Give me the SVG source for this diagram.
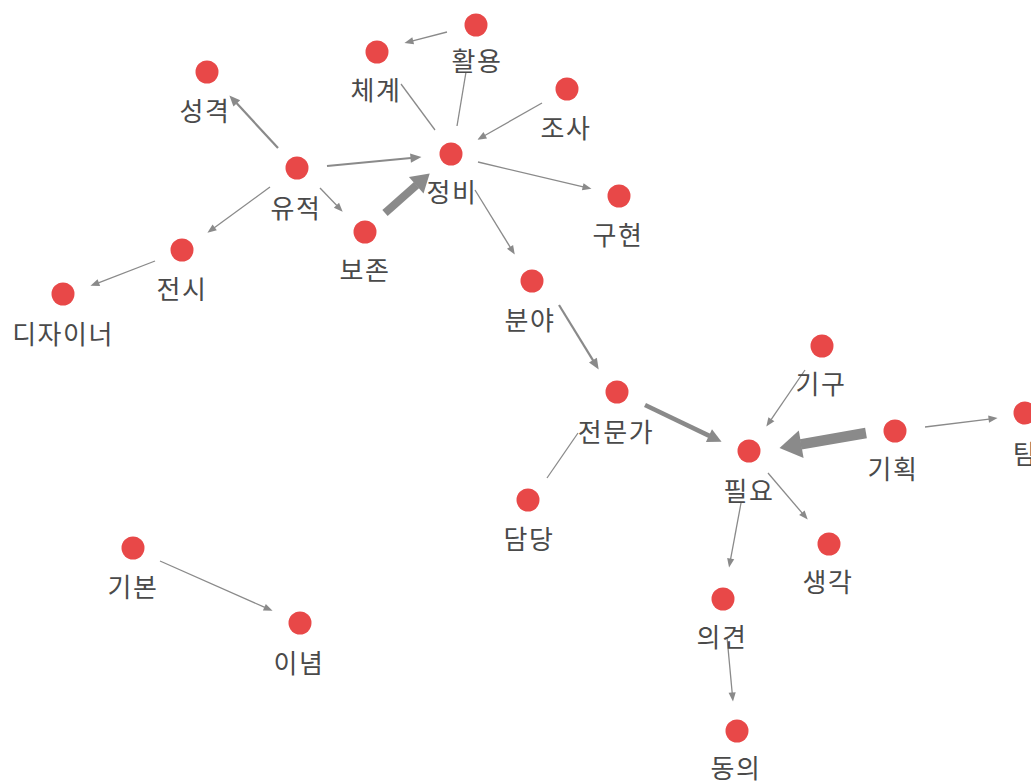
<svg xmlns="http://www.w3.org/2000/svg" width="1031" height="783" viewBox="0 0 1031 783">
<style>
.bg{fill:#ffffff}
.n{fill:#e84848}
.t{font-family:"Noto Sans CJK KR","Noto Sans",sans-serif;font-size:26px;letter-spacing:1.5px;fill:#4a4a4a;text-anchor:middle}
.e{stroke:#8a8a8a;fill:none;stroke-linecap:butt}
.s{stroke-width:1.3}
.m{stroke-width:2.2}
.w4{stroke-width:4.5}
.w8{stroke-width:8}
.w10{stroke-width:10.5}
.ah{fill:#8a8a8a}
</style>
<defs>
<marker id="a-s" markerUnits="userSpaceOnUse" markerWidth="12" markerHeight="10" refX="0.5" refY="0" orient="auto" overflow="visible"><path class="ah" d="M0,-3.6 L9,0 L0,3.6 Z"/></marker>
<marker id="a-m" markerUnits="userSpaceOnUse" markerWidth="14" markerHeight="12" refX="0.5" refY="0" orient="auto" overflow="visible"><path class="ah" d="M0,-4.6 L11,0 L0,4.6 Z"/></marker>
<marker id="a-4" markerUnits="userSpaceOnUse" markerWidth="16" markerHeight="16" refX="0.5" refY="0" orient="auto" overflow="visible"><path class="ah" d="M0,-7 L14,0 L0,7 Z"/></marker>
<marker id="a-8" markerUnits="userSpaceOnUse" markerWidth="20" markerHeight="24" refX="0.5" refY="0" orient="auto" overflow="visible"><path class="ah" d="M0,-11 L18,0 L0,11 Z"/></marker>
<marker id="a-10" markerUnits="userSpaceOnUse" markerWidth="24" markerHeight="30" refX="0.5" refY="0" orient="auto" overflow="visible"><path class="ah" d="M0,-14 L22,0 L0,14 Z"/></marker>
</defs>
<rect class="bg" x="0" y="0" width="1031" height="783"/>
<g id="connectors">
<line class="e s" x1="447" y1="32" x2="412.7" y2="40.8" marker-end="url(#a-s)"/>
<line class="e s" x1="457" y1="126" x2="466" y2="72"/>
<line class="e s" x1="435" y1="130" x2="401" y2="84"/>
<line class="e s" x1="542" y1="103" x2="484.8" y2="135.5" marker-end="url(#a-s)"/>
<line class="e m" x1="327" y1="166" x2="411" y2="158" marker-end="url(#a-m)"/>
<line class="e w8" x1="385" y1="213" x2="416.6" y2="185" marker-end="url(#a-8)"/>
<line class="e m" x1="278" y1="148" x2="236.5" y2="103.1" marker-end="url(#a-m)"/>
<line class="e s" x1="270" y1="187" x2="214.3" y2="227.7" marker-end="url(#a-s)"/>
<line class="e s" x1="320" y1="188" x2="336.8" y2="205.5" marker-end="url(#a-s)"/>
<line class="e s" x1="478" y1="162" x2="583.2" y2="186.9" marker-end="url(#a-s)"/>
<line class="e s" x1="475" y1="190" x2="510.3" y2="247.3" marker-end="url(#a-s)"/>
<line class="e s" x1="155" y1="261" x2="98.4" y2="282.8" marker-end="url(#a-s)"/>
<line class="e m" x1="559" y1="305" x2="593.2" y2="360.6" marker-end="url(#a-m)"/>
<line class="e w4" x1="645" y1="405" x2="709.4" y2="435.9" marker-end="url(#a-4)"/>
<line class="e s" x1="805" y1="370" x2="771.1" y2="419.6" marker-end="url(#a-s)"/>
<line class="e w10" x1="866" y1="433" x2="800.7" y2="444.3" marker-end="url(#a-10)"/>
<line class="e s" x1="925" y1="427" x2="989.1" y2="419.1" marker-end="url(#a-s)"/>
<line class="e s" x1="547" y1="478" x2="578" y2="433"/>
<line class="e s" x1="768" y1="473" x2="802.2" y2="513.1" marker-end="url(#a-s)"/>
<line class="e s" x1="741" y1="503" x2="730.6" y2="559.2" marker-end="url(#a-s)"/>
<line class="e s" x1="727" y1="637" x2="732.2" y2="693" marker-end="url(#a-s)"/>
<line class="e s" x1="160" y1="561" x2="264.8" y2="607.4" marker-end="url(#a-s)"/>
</g>
<g id="n-hwaryong"><circle class="n" cx="476" cy="25" r="11.5"/><text class="t" x="477" y="71">활용</text></g>
<g id="n-chegye"><circle class="n" cx="377" cy="52" r="11.5"/><text class="t" x="376" y="100">체계</text></g>
<g id="n-seonggyeok"><circle class="n" cx="207" cy="72" r="11.5"/><text class="t" x="205" y="121">성격</text></g>
<g id="n-josa"><circle class="n" cx="567" cy="89" r="11.5"/><text class="t" x="566" y="138">조사</text></g>
<g id="n-yujeok"><circle class="n" cx="297" cy="168" r="11.5"/><text class="t" x="296" y="218">유적</text></g>
<g id="n-jeongbi"><circle class="n" cx="451" cy="154" r="11.5"/><text class="t" x="452" y="202">정비</text></g>
<g id="n-guhyeon"><circle class="n" cx="619" cy="196" r="11.5"/><text class="t" x="618" y="245">구현</text></g>
<g id="n-bojon"><circle class="n" cx="365" cy="232" r="11.5"/><text class="t" x="365" y="280">보존</text></g>
<g id="n-jeonsi"><circle class="n" cx="182" cy="250" r="11.5"/><text class="t" x="182" y="299">전시</text></g>
<g id="n-designer"><circle class="n" cx="63" cy="294" r="11.5"/><text class="t" x="63" y="344">디자이너</text></g>
<g id="n-bunya"><circle class="n" cx="532" cy="281" r="11.5"/><text class="t" x="530" y="330">분야</text></g>
<g id="n-gigu"><circle class="n" cx="822" cy="346" r="11.5"/><text class="t" x="821" y="394">기구</text></g>
<g id="n-jeonmunga"><circle class="n" cx="617" cy="392" r="11.5"/><text class="t" x="616" y="442">전문가</text></g>
<g id="n-gihoek"><circle class="n" cx="895" cy="431" r="11.5"/><text class="t" x="893" y="479">기획</text></g>
<g id="n-tam"><circle class="n" cx="1025" cy="413" r="11.5"/><text class="t" x="1013" y="464" style="text-anchor:start">탐</text></g>
<g id="n-pillyo"><circle class="n" cx="749" cy="451" r="11.5"/><text class="t" x="749" y="501">필요</text></g>
<g id="n-damdang"><circle class="n" cx="528" cy="500" r="11.5"/><text class="t" x="529" y="549">담당</text></g>
<g id="n-saenggak"><circle class="n" cx="829" cy="544" r="11.5"/><text class="t" x="828" y="592">생각</text></g>
<g id="n-gibon"><circle class="n" cx="133" cy="548" r="11.5"/><text class="t" x="133" y="597">기본</text></g>
<g id="n-uigyeon"><circle class="n" cx="723" cy="599" r="11.5"/><text class="t" x="722" y="647">의견</text></g>
<g id="n-inyeom"><circle class="n" cx="300" cy="623" r="11.5"/><text class="t" x="299" y="673">이념</text></g>
<g id="n-dongui"><circle class="n" cx="737" cy="731" r="11.5"/><text class="t" x="736" y="778">동의</text></g>
</svg>
